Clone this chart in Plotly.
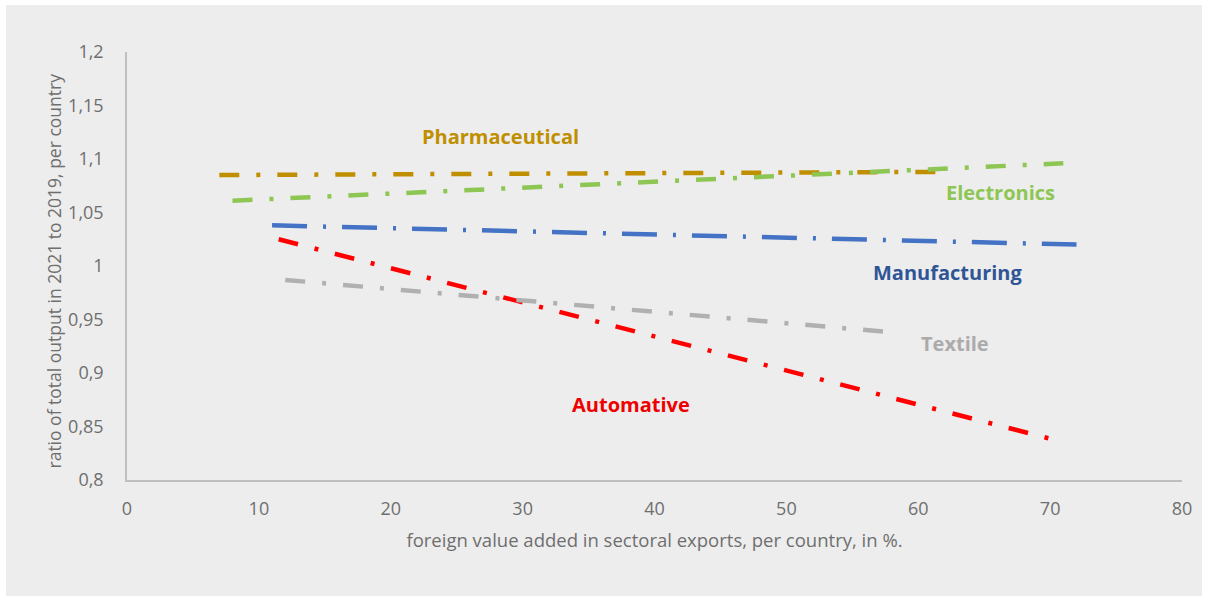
import plotly.graph_objects as go

# Sector trend lines: foreign value added (%) vs output ratio 2021/2019
sectors = ["Pharmaceutical", "Electronics", "Manufacturing", "Automative", "Textile"]
x_start = [7.0, 8.0, 11.0, 11.5, 12.0]
x_end = [62.0, 71.0, 72.0, 70.5, 58.0]
y_start = [1.085, 1.061, 1.038, 1.025, 0.987]
y_end = [1.088, 1.096, 1.020, 0.837, 0.938]

y_tickvals = [0.8, 0.85, 0.9, 0.95, 1.0, 1.05, 1.1, 1.15, 1.2]
y_ticktext = ["0,8", "0,85", "0,9", "0,95", "1", "1,05", "1,1", "1,15", "1,2"]
x_tickvals = [0, 10, 20, 30, 40, 50, 60, 70, 80]

x_title = "foreign value added in sectoral exports, per country, in %."
y_title = "ratio of total output in 2021 to 2019, per country"

line_colors = {
    "Pharmaceutical": "#BF8F00",
    "Electronics": "#8DC653",
    "Manufacturing": "#4472C4",
    "Automative": "#FF0000",
    "Textile": "#B0B0B0",
}
label_colors = {
    "Pharmaceutical": "#BF8F00",
    "Electronics": "#8DC653",
    "Manufacturing": "#2F5597",
    "Automative": "#EE0000",
    "Textile": "#ABABAB",
}
dashes = {
    "Pharmaceutical": "20px,17px,4px,17px",
    "Electronics": "20px,17px,4px,17px",
    "Manufacturing": "35px,16px,3px,16px",
    "Automative": "20px,17px,4px,17px",
    "Textile": "20px,17px,4px,17px",
}
label_pos = {
    "Pharmaceutical": (28.3, 1.1206),
    "Electronics": (66.2, 1.069),
    "Manufacturing": (62.2, 0.9935),
    "Automative": (38.2, 0.871),
    "Textile": (62.8, 0.928),
}

FONT = "Open Sans"

fig = go.Figure()
for i, name in enumerate(sectors):
    fig.add_trace(go.Scatter(
        x=[x_start[i], x_end[i]],
        y=[y_start[i], y_end[i]],
        mode="lines",
        name=name,
        line=dict(color=line_colors[name], width=4.5, dash=dashes[name]),
        showlegend=False,
    ))
    lx, ly = label_pos[name]
    fig.add_annotation(
        x=lx, y=ly, text=f"<b>{name}</b>", showarrow=False,
        font=dict(family=FONT, size=20, color=label_colors[name]),
    )

# margins in pixels; helpers turn pixel positions into paper fractions
L, R, T, B = 127, 26, 52, 118
W, H = 1208, 598
pw, ph = W - L - R, H - T - B


def px_x(p):
    return (p - L) / pw


def px_y(p):
    return ((H - B) - p) / ph


# light grey panel with a thin white frame around it
fig.add_shape(
    type="rect", xref="paper", yref="paper", layer="below",
    x0=px_x(6), x1=px_x(1202), y0=px_y(596), y1=px_y(5),
    fillcolor="#EDEDED", line=dict(width=0),
)

# vertical axis title
fig.add_annotation(
    xref="paper", yref="paper", x=px_x(53), y=px_y(271.5),
    xanchor="center", yanchor="middle", textangle=-90,
    text=y_title, showarrow=False,
    font=dict(family=FONT, size=17.5, color="#6F6F6F"),
)

axis_font = dict(family=FONT, size=18, color="#6F6F6F")
fig.update_layout(
    width=W, height=H,
    margin=dict(l=L, r=R, t=T, b=B),
    paper_bgcolor="white",
    plot_bgcolor="rgba(0,0,0,0)",
    font=dict(family=FONT),
    xaxis=dict(
        range=[0, 80], tickvals=x_tickvals, showgrid=False, zeroline=False,
        showline=True, linecolor="#BFBFBF", linewidth=1.5,
        ticks="outside", ticklen=12, tickcolor="rgba(0,0,0,0)",
        tickfont=axis_font,
        title=dict(text=x_title,
                   font=dict(family=FONT, size=18.5, color="#6F6F6F"), standoff=15),
    ),
    yaxis=dict(
        range=[0.8, 1.2], tickvals=y_tickvals, ticktext=y_ticktext,
        showgrid=False, zeroline=False,
        showline=True, linecolor="#BFBFBF", linewidth=1.5,
        ticks="outside", ticklen=18, tickcolor="rgba(0,0,0,0)",
        tickfont=axis_font,
    ),
)

fig.write_html("out.html")
